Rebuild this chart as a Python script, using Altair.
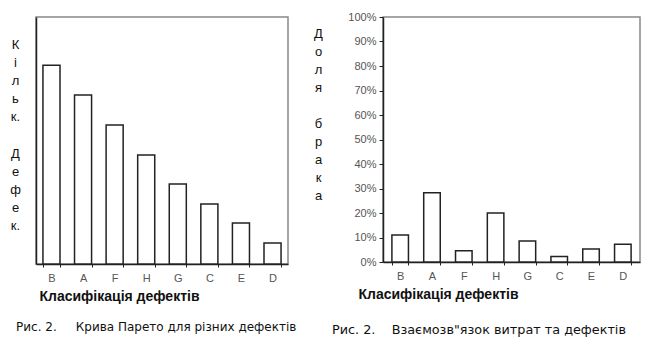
import altair as alt
import pandas as pd

categories = ["B", "A", "F", "H", "G", "C", "E", "D"]
counts = [80.5, 68.4, 56.3, 44.1, 32.4, 24.3, 16.6, 8.5]
shares = [0.11, 0.283, 0.046, 0.20, 0.086, 0.022, 0.053, 0.072]
pct_ticks = [0, 0.1, 0.2, 0.3, 0.4, 0.5, 0.6, 0.7, 0.8, 0.9, 1.0]

NB = "\u00a0"
BL = "\u2800"
x_title = "Класифікація дефектів"
left_ytitle = ["К", "і", "л", "ь", "к.", BL, "Д", "е", "ф", "е", "к."]
right_ytitle = ["Д", "о", "л", "я", BL, "б", "р", "а", "к", "а"]
left_caption = "Рис. 2." + NB * 5 + "Крива Парето для різних дефектів"
right_caption = "Рис. 2." + NB * 4 + "Взаємозв\"язок витрат та дефектів"

df_left = pd.DataFrame({"cat": categories, "val": counts})
df_right = pd.DataFrame({"cat": categories, "val": shares})

FONT = "Liberation Sans"
CAPFONT = "DejaVu Sans"

def xaxis(title_dx):
    return alt.Axis(
        title=x_title, labelAngle=0, labelFont=FONT, labelFontSize=11,
        labelColor="#555555", labelPadding=5, tickBand="extent", tickSize=3,
        tickColor="#222222", domainColor="#222222", domainWidth=1.5,
        titleFont=FONT, titleFontSize=14, titleFontWeight="bold",
        titleColor="#111111", titleAnchor="start", titleAlign="left",
        titleX=title_dx, titlePadding=6,
    )

left = alt.Chart(df_left).mark_bar(
    fill="white", stroke="#222222", strokeWidth=1.5
).encode(
    x=alt.X("cat:N", sort=categories,
            scale=alt.Scale(paddingInner=0.46, paddingOuter=0.22),
            axis=xaxis(3)),
    y=alt.Y("val:Q", scale=alt.Scale(domain=[0, 100]),
            axis=alt.Axis(
                title=left_ytitle, labels=False, ticks=False, grid=False,
                domainColor="#222222", domainWidth=1.5,
                titleAngle=0, titleFont=FONT, titleFontSize=13,
                titleFontWeight="normal", titleColor="#111111",
                titleAlign="center", titleBaseline="middle",
                titleLineHeight=18.2, titleX=-21, titleY=27,
            )),
).properties(
    width=252, height=247,
    title=alt.TitleParams(left_caption, orient="bottom", anchor="start",
                          frame="group", dx=-20, offset=19, font=CAPFONT,
                          fontSize=12, fontWeight="normal", color="#111111"),
)

right = alt.Chart(df_right).mark_bar(
    fill="white", stroke="#222222", strokeWidth=1.5
).encode(
    x=alt.X("cat:N", sort=categories,
            scale=alt.Scale(paddingInner=0.48, paddingOuter=0.28),
            axis=xaxis(-25)),
    y=alt.Y("val:Q", scale=alt.Scale(domain=[0, 1]),
            axis=alt.Axis(
                values=pct_ticks, format=".0%", grid=False,
                labelFont=FONT, labelFontSize=11, labelColor="#555555",
                tickSize=4, tickColor="#222222", labelPadding=3,
                domainColor="#222222", domainWidth=1.5,
                title=right_ytitle, titleAngle=0, titleFont=FONT,
                titleFontSize=13, titleFontWeight="normal",
                titleColor="#111111", titleAlign="center",
                titleBaseline="middle", titleLineHeight=18,
                titleX=-65, titleY=16,
            )),
).properties(
    width=257, height=245,
    title=alt.TitleParams(right_caption, orient="bottom", anchor="start",
                          frame="group", dx=-51, offset=23, font=CAPFONT,
                          fontSize=12.8, fontWeight="normal", color="#111111"),
)

chart = alt.hconcat(left, right, spacing=14).properties(
    padding={"left": 0, "top": 2, "right": 0, "bottom": 0},
    background="white",
).configure_view(
    stroke="#888888", strokeWidth=1.5
)

chart.save("out.html", embed_options={"renderer": "svg", "actions": False})
